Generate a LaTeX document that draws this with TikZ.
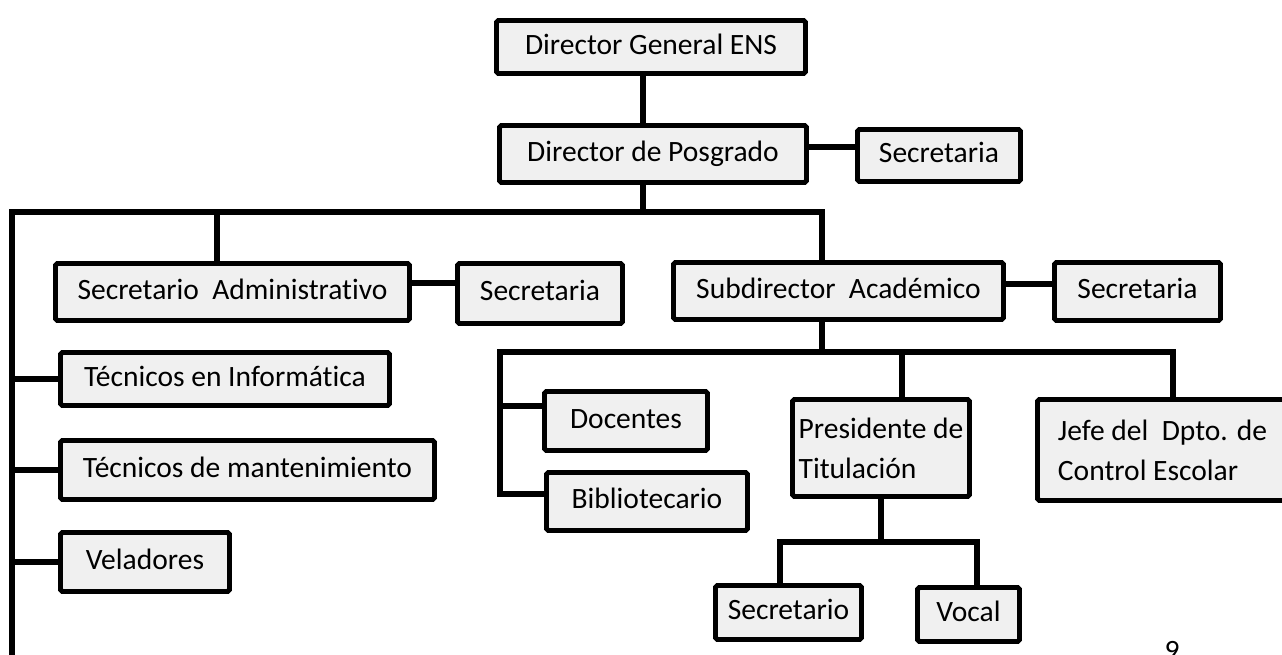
\documentclass[tikz,border=0pt]{standalone}
\usepackage{fontspec}
\setmainfont{Carlito}[Ligatures=NoCommon]
\definecolor{gris}{RGB}{240,240,240}
\tikzset{
    caja/.style={draw, line width=2.8pt, fill=gris, rounded corners=1pt, inner sep=0pt, text height=0.9em, text depth=0.09em, font=\fontsize{16.8}{22.7}\selectfont},
    doble/.style={align=left, text height=, text depth=},
    linea/.style={line width=3.1pt}
}

\begin{document}
\begin{tikzpicture}[x=0.02cm, y=-0.02cm]
    \useasboundingbox (0,0) rectangle (1282,655);
    \clip (0,0) rectangle (1282,655);

    % Direccion
    \node[caja, minimum width=6.18cm, minimum height=1.06cm] (dirgen) at (651,47) {Director General ENS};
    \node[caja, minimum width=6.14cm, minimum height=1.14cm] (posgrado) at (653,154) {Director de Posgrado};
    \node[caja, minimum width=3.26cm, minimum height=1.04cm] (secpos) at (939,155.5) {Secretaria};

    % Secretario administrativo y subdirector
    \node[caja, minimum width=7.08cm, minimum height=1.14cm] (secadm) at (232.5,292) {Secretario~ Administrativo};
    \node[caja, minimum width=3.30cm, minimum height=1.20cm] (secadmb) at (540,293.5) {Secretaria};
    \node[caja, minimum width=6.60cm, minimum height=1.14cm] (subdir) at (838.5,291) {Subdirector~ Académico};
    \node[caja, minimum width=3.32cm, minimum height=1.16cm] (secsub) at (1137.5,291.5) {Secretaria};

    % Personal de apoyo
    \node[caja, minimum width=6.58cm, minimum height=1.06cm] (tecinf) at (225,379) {Técnicos en Informática};
    \node[caja, minimum width=7.48cm, minimum height=1.18cm] (tecman) at (247.5,470) {Técnicos de mantenimiento};
    \node[caja, minimum width=3.38cm, minimum height=1.18cm] (velad) at (145,562) {Veladores};

    % Area academica
    \node[caja, minimum width=3.26cm, minimum height=1.18cm] (docentes) at (626,421) {Docentes};
    \node[caja, minimum width=4.02cm, minimum height=1.16cm] (biblio) at (647,501.5) {Bibliotecario};
    \node[caja, doble, minimum width=3.54cm, minimum height=1.94cm] (presid) at (881,448) {Presidente de\\Titulación};
    \node[caja, doble, minimum width=5.00cm, minimum height=2.02cm] (jefe) at (1162.5,450) {Jefe del~ Dpto. de\\Control Escolar};

    % Titulacion
    \node[caja, minimum width=2.92cm, minimum height=1.08cm] (secret) at (788.5,612.5) {Secretario};
    \node[caja, minimum width=2.04cm, minimum height=1.08cm] (vocal) at (968.5,614.5) {Vocal};

    % Pagina
    \node[font=\fontsize{16.8}{22.7}\selectfont, anchor=base, inner sep=0pt] (pagina) at (1172,660) {9};

    % Buses
    \coordinate (bus1) at (643,212);
    \coordinate (bus1l) at (12,212);
    \coordinate (bus1r) at (822,212);
    \coordinate (finl) at (12,660);
    \coordinate (ramadm) at (217,212);
    \coordinate (bus2) at (822,352);
    \coordinate (bus2l) at (500,352);
    \coordinate (bus2r) at (1173,352);
    \coordinate (rampres) at (902,352);
    \coordinate (bus3) at (881,542);
    \coordinate (bus3l) at (780,542);
    \coordinate (bus3r) at (977,542);

    % Lineas
    \draw[linea] (dirgen.south -| bus1) -- (posgrado.north -| bus1);
    \draw[linea] (posgrado.south -| bus1) -- (bus1);
    \draw[linea] ([yshift=0.14cm]posgrado.east) coordinate (p1) -- (p1 -| secpos.west);
    \draw[linea] (finl) -- (bus1l) -- (bus1r) -- (subdir.north -| bus1r);
    \draw[linea] (ramadm) -- (secadm.north -| ramadm);
    \draw[linea] ([yshift=0.18cm]secadm.east) coordinate (p2) -- (p2 -| secadmb.west);
    \draw[linea] ([yshift=0.14cm]subdir.east) coordinate (p3) -- (p3 -| secsub.west);

    \draw[linea] (tecinf.west -| bus1l) -- (tecinf.west);
    \draw[linea] (tecman.west -| bus1l) -- (tecman.west);
    \draw[linea] (velad.west -| bus1l) -- (velad.west);

    \draw[linea] (subdir.south -| bus2) -- (bus2);
    \draw[linea] (jefe.north -| bus2r) -- (bus2r) -- (bus2l) |- ([yshift=0.15cm]biblio.west);
    \draw[linea] (bus2l) |- ([yshift=0.3cm]docentes.west);
    \draw[linea] (rampres) -- (presid.north -| rampres);

    \draw[linea] (presid.south) -- (bus3);
    \draw[linea] (secret.north -| bus3l) -- (bus3l) -- (bus3r) -- (vocal.north -| bus3r);
\end{tikzpicture}
\end{document}
